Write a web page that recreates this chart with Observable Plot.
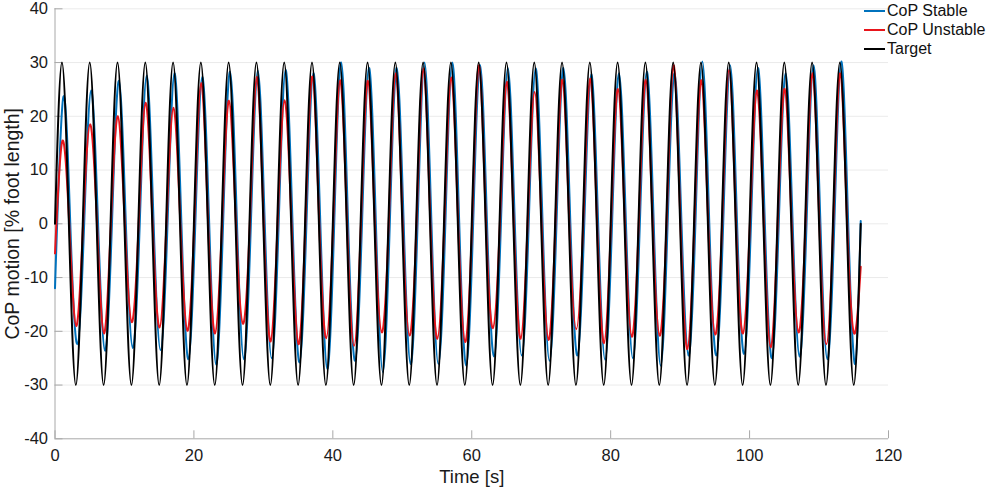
<!DOCTYPE html>
<html>
<head>
<meta charset="utf-8">
<script src="https://cdn.jsdelivr.net/npm/d3@7"></script>
<script src="https://cdn.jsdelivr.net/npm/@observablehq/plot@0.6"></script>
<style>
  html, body { margin: 0; padding: 0; background: #fff; }
  #wrap { position: relative; width: 986px; height: 491px; font-family: "Liberation Sans", Arial, Helvetica, sans-serif; }
  #legend { position: absolute; left: 864px; top: 0px; font-size: 16px; color: #111; }
  .row { position: absolute; left: 0; height: 19px; display: flex; align-items: center; white-space: nowrap; }
  .sw { width: 21px; height: 0; border-top: 2px solid; margin-right: 2px; }
</style>
</head>
<body>
<div id="wrap"><div id="legend"></div></div>
<script>
// ---- data ----
const seriesNames = ["CoP Stable", "CoP Unstable", "Target"];
const seriesColors = ["#0072BD", "#E8151B", "#000000"];

const xTicks = [0, 20, 40, 60, 80, 100, 120];
const yTicks = [-40, -30, -20, -10, 0, 10, 20, 30, 40];

const peakTime   = [1,5,9,13,17,21,25,29,33,37,41,45,49,53,57,61,65,69,73,77,81,85,89,93,97,101,105,109,113];
const troughTime = [3,7,11,15,19,23,27,31,35,39,43,47,51,55,59,63,67,71,75,79,83,87,91,95,99,103,107,111,115];
const upCrossTime   = [0,4,8,12,16,20,24,28,32,36,40,44,48,52,56,60,64,68,72,76,80,84,88,92,96,100,104,108,112,116];
const downCrossTime = [2,6,10,14,18,22,26,30,34,38,42,46,50,54,58,62,66,70,74,78,82,86,90,94,98,102,106,110,114];

const targetAmplitude = 30;

const stablePeak   = [23.6,24.8,26.6,27.6,28.0,27.3,28.3,28.5,28.6,28.0,30.0,29.0,29.0,30.0,30.0,29.5,29.0,28.9,29.0,27.8,28.0,28.3,28.0,30.2,29.5,29.0,28.0,29.5,30.2];
const stableTrough = [-22.4,-23.6,-23.1,-23.5,-25.2,-26.2,-25.2,-25.0,-25.8,-27.0,-25.5,-27.6,-26.1,-26.1,-26.4,-24.7,-24.5,-25.5,-24.5,-25.3,-25.0,-26.4,-24.5,-24.5,-24.2,-25.0,-24.7,-25.2,-26.1];
const unstablePeak   = [15.4,18.5,20.0,22.5,21.6,26.2,22.9,27.3,23.0,27.4,26.7,26.6,28.0,28.9,27.2,29.5,26.4,24.5,26.8,27.0,25.1,26.8,29.5,26.7,28.6,24.8,25.1,28.0,28.0];
const unstableTrough = [-19.0,-20.4,-18.3,-19.3,-19.9,-20.4,-18.6,-21.9,-22.4,-21.3,-22.7,-20.2,-20.8,-21.4,-22.0,-19.4,-21.4,-21.6,-19.6,-22.2,-21.0,-20.8,-23.3,-20.6,-20.4,-23.0,-20.2,-22.4,-20.4];

const stableStart = -12, stableEnd = 0.5, stableLag = 0.2;
const unstableStart = -5.5, unstableEnd = -8, unstableLag = 0.05;

// ---- build tables ----
function buildSeries(name, start, peaks, troughs, lag, end) {
  const pts = [{series: name, t: upCrossTime[0], v: start}];
  for (let k = 0; k < peakTime.length; k++) {
    pts.push({series: name, t: peakTime[k] + lag, v: peaks[k]});
    pts.push({series: name, t: downCrossTime[k] + lag, v: 0});
    pts.push({series: name, t: troughTime[k] + lag, v: troughs[k]});
    if (k < peakTime.length - 1) pts.push({series: name, t: upCrossTime[k + 1] + lag, v: 0});
  }
  pts.push({series: name, t: upCrossTime[upCrossTime.length - 1], v: end});
  return pts;
}
const targetPeaks = peakTime.map(() => targetAmplitude);
const targetTroughs = troughTime.map(() => -targetAmplitude);

const stable = buildSeries(seriesNames[0], stableStart, stablePeak, stableTrough, stableLag, stableEnd);
const unstable = buildSeries(seriesNames[1], unstableStart, unstablePeak, unstableTrough, unstableLag, unstableEnd);
const target = buildSeries(seriesNames[2], 0, targetPeaks, targetTroughs, 0, 0);

const W = 986, H = 491;
const mL = 54.5, mR = 98, mT = 8.3, mB = 52.7;
const axisGray = "#a8a8a8";
const gridGray = "#ebebeb";
const tickLenX = 8 * 80 / (H - mT - mB);      // 8px in y data units
const tickLenY = 8 * 120 / (W - mL - mR);     // 8px in x data units

const chart = Plot.plot({
  width: W, height: H,
  marginLeft: mL, marginRight: mR, marginTop: mT, marginBottom: mB,
  style: {fontFamily: "'Liberation Sans', Arial, Helvetica, sans-serif", background: "#fff", color: "#1a1a1a"},
  x: {domain: [0, 120]},
  y: {domain: [-40, 40]},
  marks: [
    Plot.ruleY(yTicks.filter(d => d > -40), {stroke: gridGray, strokeWidth: 1}),
    Plot.ruleX([0], {stroke: axisGray}),
    Plot.ruleY([-40], {stroke: axisGray}),
    Plot.ruleX(xTicks, {x: d => d, y1: -40, y2: -40 + tickLenX, stroke: axisGray}),
    Plot.ruleY(yTicks, {y: d => d, x1: 0, x2: tickLenY, stroke: axisGray}),
    Plot.axisX({ticks: xTicks, tickSize: 0, tickPadding: 10, fontSize: 16.5, label: null, tickFormat: d => String(d)}),
    Plot.axisY({ticks: yTicks, tickSize: 0, tickPadding: 7, fontSize: 16.5, label: null, tickFormat: d => String(d)}),
    Plot.line(stable, {x: "t", y: "v", stroke: seriesColors[0], strokeWidth: 2, curve: "natural"}),
    Plot.line(unstable, {x: "t", y: "v", stroke: seriesColors[1], strokeWidth: 2, curve: "natural"}),
    Plot.line(target, {x: "t", y: "v", stroke: seriesColors[2], strokeWidth: 2, curve: "natural"}),
    Plot.text(["Time [s]"], {frameAnchor: "bottom", textAnchor: "middle", lineAnchor: "middle", dy: 38, fontSize: 18.5, fill: "#1a1a1a"}),
    Plot.text(["CoP motion [% foot length]"], {frameAnchor: "left", textAnchor: "middle", lineAnchor: "middle", dx: -42.5, rotate: -90, fontSize: 19.5, fill: "#1a1a1a"})
  ]
});
document.getElementById("wrap").prepend(chart);

const legend = document.getElementById("legend");
seriesNames.forEach((name, i) => {
  const row = document.createElement("div");
  row.className = "row";
  row.style.top = (1.5 + i * 19) + "px";
  const sw = document.createElement("span");
  sw.className = "sw";
  sw.style.borderTopColor = seriesColors[i];
  const label = document.createElement("span");
  label.textContent = name;
  row.appendChild(sw);
  row.appendChild(label);
  legend.appendChild(row);
});
</script>
</body>
</html>
